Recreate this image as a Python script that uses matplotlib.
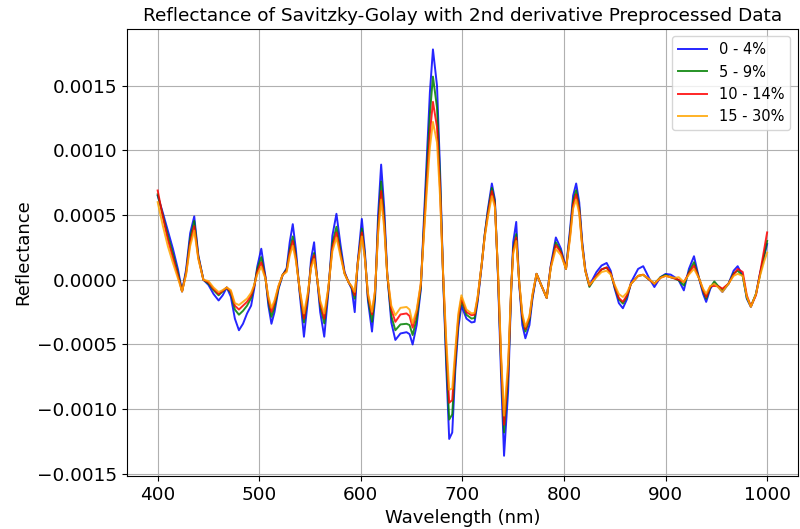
import numpy as np
import matplotlib
matplotlib.use("Agg")
import matplotlib.pyplot as plt

# wavelength grid (nm) shared by all spectra
wavelength = [
    400, 405, 410, 415, 420, 424, 428, 432, 436, 440,
    445, 450, 455, 460, 464, 468, 472, 476, 480, 484, 488, 492, 495, 498,
    502, 506, 509, 512, 515, 519, 523, 527, 530, 533, 536, 540, 544, 548,
    551, 554, 557, 560, 564, 568, 572, 576, 580, 584, 588, 591, 594, 597,
    601, 604, 607, 611, 614, 617, 620, 623, 626, 630, 634, 639, 645, 648,
    651, 655, 659, 662, 665, 668, 671, 675, 678, 681, 684, 687, 690, 693, 696,
    699, 704, 709, 712, 715, 719, 722, 725, 729, 732, 735, 738, 741, 745,
    748, 750, 753, 756, 759, 762, 766, 769, 773, 777, 783, 787, 792, 797,
    802, 806, 809, 812, 815, 818, 821, 825, 832, 837, 842, 846, 850, 854,
    858, 862, 866, 873, 878, 884, 889, 895,
    900, 905, 909, 913, 918, 923, 928, 933, 937, 940, 944, 948, 952, 956,
    962, 967, 971, 976, 980, 984, 989, 993, 997, 1000,
]

# mean 2nd-derivative spectra per moisture class, in units of 1e-4
refl_0_4 = [
    6.5, 5.2, 3.8, 2.4, 0.8, -0.9, 0.8, 3.6, 4.9, 1.9,
    0.0, -0.4, -1.1, -1.6, -1.2, -0.6, -1.3, -3.0, -3.9, -3.4, -2.6, -2.0, -0.7, 1.0,
    2.4, 0.3, -2.0, -3.4, -2.5, -0.7, 0.35, 0.9, 2.9, 4.3, 2.4, -1.2, -4.4, -1.5,
    1.6, 2.9, 0.1, -2.5, -4.4, -1.0, 3.4, 5.1, 2.7, 0.6, -0.2, -0.7, -2.5, 1.4,
    4.7, 2.2, -1.6, -4.0, -1.5, 5.0, 8.9, 5.6, 0.5, -3.3, -4.65, -4.15, -4.05, -4.2,
    -5.0, -3.5, -0.8, 4.5, 9.5, 14.5, 17.8, 15.0, 8.5, 0.3, -6.5, -12.3, -11.8, -7.0, -3.7,
    -2.0, -3.0, -3.3, -3.25, -1.7, 1.1, 3.5, 5.4, 7.44, 6.2, 0.3, -7.3, -13.6, -8.6,
    -0.9, 2.9, 4.47, -0.4, -3.5, -4.52, -3.5, -1.46, 0.46, -0.3, -1.4, 1.1, 3.27, 2.4,
    0.9, 3.9, 6.5, 7.44, 6.0, 2.9, 0.84, -0.44, 0.6, 1.1, 1.3, 0.7, -0.7, -1.8,
    -2.2, -1.5, -0.2, 0.84, 1.05, 0.1, -0.56, 0.2,
    0.45, 0.4, 0.2, -0.05, -0.82, 0.84, 1.82, 0.1, -1.1, -1.71, -0.7, -0.23, -0.56, -0.94,
    -0.3, 0.7, 1.05, 0.3, -1.46, -2.1, -1.1, 0.5, 1.8, 2.76,
]
refl_5_9 = [
    6.6, 5.0, 3.4, 2.0, 0.5, -0.9, 0.6, 3.2, 4.55, 1.8,
    0.0, -0.3, -0.8, -1.2, -0.9, -0.6, -1.0, -2.3, -2.7, -2.4, -2.0, -1.4, -0.5, 0.8,
    1.75, 0.2, -1.7, -2.86, -2.1, -0.6, 0.38, 0.8, 2.3, 3.35, 1.9, -1.0, -3.3, -1.2,
    1.2, 2.07, 0.1, -2.0, -3.37, -0.8, 2.8, 4.1, 2.2, 0.5, -0.2, -0.6, -1.46, 1.3,
    3.96, 1.9, -1.4, -3.25, -1.2, 4.2, 7.6, 4.8, 0.4, -2.8, -3.9, -3.45, -3.4, -3.5,
    -4.27, -3.0, -0.6, 4.0, 8.5, 12.8, 15.7, 13.3, 7.8, 0.3, -5.8, -10.8, -10.4, -6.4, -3.2,
    -1.6, -2.7, -3.0, -2.95, -1.5, 1.2, 3.5, 5.2, 7.1, 6.0, 0.5, -6.3, -11.8, -7.5,
    -0.8, 2.4, 3.53, -0.3, -3.0, -4.0, -3.1, -1.3, 0.46, -0.3, -1.4, 1.0, 2.89, 2.2,
    0.84, 3.6, 6.1, 6.92, 5.6, 2.7, 0.7, -0.55, 0.3, 0.8, 0.95, 0.5, -0.6, -1.5,
    -1.84, -1.3, -0.3, 0.3, 0.38, 0.0, -0.3, 0.2,
    0.38, 0.2, 0.1, -0.05, -0.44, 0.6, 1.36, 0.1, -0.9, -1.46, -0.6, -0.13, -0.5, -0.8,
    -0.3, 0.5, 0.7, 0.3, -1.4, -2.05, -1.1, 0.4, 1.9, 3.0,
]
refl_10_14 = [
    6.9, 4.9, 3.1, 1.7, 0.3, -0.9, 0.5, 2.9, 4.15, 1.7,
    0.0, -0.2, -0.7, -1.1, -0.85, -0.6, -0.9, -2.0, -2.3, -2.0, -1.7, -1.2, -0.5, 0.6,
    1.35, 0.2, -1.5, -2.48, -1.8, -0.5, 0.38, 0.7, 2.1, 3.0, 1.7, -0.9, -3.0, -1.1,
    1.1, 1.9, 0.1, -1.8, -3.0, -0.7, 2.5, 3.66, 2.0, 0.5, -0.2, -0.55, -1.2, 1.3,
    3.66, 1.7, -1.2, -2.68, -0.9, 3.8, 6.85, 4.4, 0.4, -2.3, -3.25, -2.68, -2.6, -2.8,
    -3.7, -2.5, -0.4, 3.6, 7.6, 11.3, 13.75, 11.8, 7.0, 0.4, -5.0, -9.5, -9.3, -5.9, -2.9,
    -1.4, -2.5, -2.74, -2.7, -1.4, 1.2, 3.4, 5.0, 6.85, 5.8, 0.6, -6.0, -11.2, -7.0,
    -0.7, 2.2, 3.27, -0.3, -2.8, -3.8, -2.9, -1.2, 0.46, -0.3, -1.4, 1.0, 2.68, 2.1,
    0.84, 3.4, 5.8, 6.6, 5.4, 2.6, 0.7, -0.45, 0.3, 0.8, 0.95, 0.5, -0.5, -1.4,
    -1.7, -1.2, -0.3, 0.3, 0.4, 0.0, -0.3, 0.15,
    0.3, 0.2, 0.1, 0.0, -0.18, 0.5, 1.1, 0.1, -0.8, -1.33, -0.5, -0.48, -0.5, -0.69,
    -0.3, 0.4, 0.84, 0.6, -1.2, -2.05, -1.2, 0.5, 2.3, 3.66,
]
refl_15_30 = [
    6.0, 4.2, 2.6, 1.3, 0.1, -0.9, 0.4, 2.6, 3.8, 1.6,
    0.0, -0.1, -0.6, -0.95, -0.8, -0.6, -0.8, -1.8, -1.95, -1.7, -1.45, -1.0, -0.4, 0.4,
    1.0, 0.1, -1.3, -2.17, -1.6, -0.45, 0.38, 0.6, 1.85, 2.63, 1.5, -0.8, -2.6, -0.9,
    0.9, 1.6, 0.1, -1.6, -2.6, -0.6, 2.2, 3.27, 1.8, 0.45, -0.2, -0.5, -0.94, 1.2,
    3.35, 1.6, -1.0, -2.48, -0.8, 3.5, 6.2, 4.0, 0.4, -2.0, -2.74, -2.17, -2.1, -2.3,
    -3.37, -2.3, -0.3, 3.3, 6.9, 10.2, 12.2, 10.6, 6.4, 0.5, -4.5, -8.5, -8.4, -5.4, -2.6,
    -1.2, -2.3, -2.6, -2.55, -1.3, 1.2, 3.3, 4.8, 6.46, 5.6, 0.8, -5.6, -10.5, -6.4,
    -0.6, 2.0, 3.0, -0.2, -2.6, -3.63, -2.8, -1.1, 0.46, -0.3, -1.4, 0.9, 2.38, 1.9,
    0.84, 3.2, 5.5, 6.2, 5.1, 2.5, 0.7, -0.4, 0.2, 0.6, 0.7, 0.4, -0.4, -1.1,
    -1.33, -1.0, -0.3, 0.3, 0.38, 0.05, -0.3, 0.15,
    0.3, 0.2, 0.15, 0.2, -0.18, 0.4, 0.84, 0.1, -0.7, -1.07, -0.5, -0.3, -0.6, -0.94,
    -0.3, 0.3, 0.46, 0.3, -1.3, -2.1, -1.1, 0.3, 1.4, 2.1,
]

labels = ["0 - 4%", "5 - 9%", "10 - 14%", "15 - 30%"]
colors = ["blue", "green", "red", "orange"]
series = [refl_0_4, refl_5_9, refl_10_14, refl_15_30]

fig = plt.figure(figsize=(8, 5.29), dpi=100)
ax = fig.add_axes([0.159, 0.1, 0.838, 0.845])

wl = np.array(wavelength)
for vals, lab, col in zip(series, labels, colors):
    ax.plot(wl, np.array(vals) * 1e-4, color=col, lw=1.4, alpha=0.85, label=lab)

ax.set_title("Reflectance of Savitzky-Golay with 2nd derivative Preprocessed Data", fontsize=13.3)
ax.set_xlabel("Wavelength (nm)", fontsize=13)
ax.set_ylabel("Reflectance", fontsize=13)
ax.set_xticks([400, 500, 600, 700, 800, 900, 1000])
ax.set_yticks([-0.0015, -0.001, -0.0005, 0.0, 0.0005, 0.001, 0.0015])
ax.tick_params(labelsize=13.3)
ax.grid(True, color="#b0b0b0", lw=0.8)
ax.legend(loc="upper right", fontsize=10.5)

fig.savefig("out.png", dpi=100)
